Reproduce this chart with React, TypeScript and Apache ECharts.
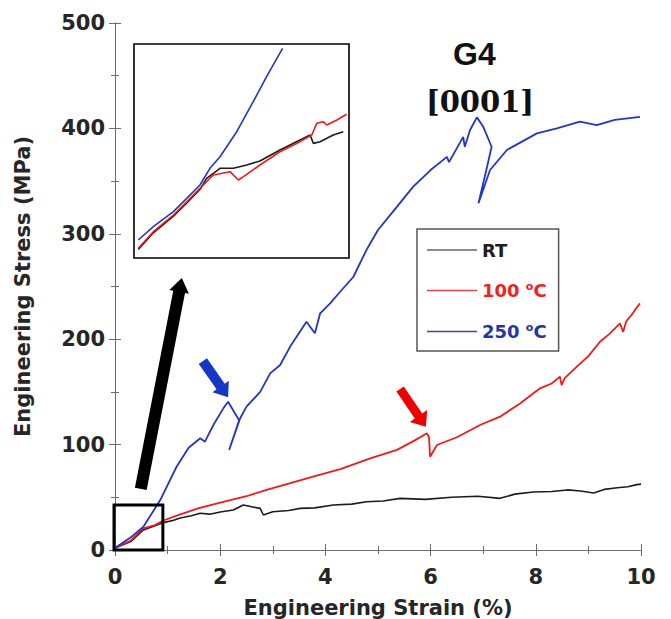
import React, { useEffect, useRef } from "react";
import * as echarts from "echarts";

// ---- main chart data: [strain %, stress MPa] ----
const rtCurve: [number, number][] = [
  [0, 2], [0.3, 8], [0.54, 19], [0.76, 23], [0.92, 26], [1.1, 28], [1.24, 30.4], [1.45, 32.5], [1.62, 34.8],
  [1.8, 34], [2.0, 36], [2.25, 38], [2.44, 42.7], [2.6, 41], [2.76, 39.5], [2.82, 33.2],
  [3.0, 36.3], [3.3, 37.5], [3.52, 39.5], [3.8, 40], [4.15, 42.7], [4.5, 43.5], [4.78, 45.8],
  [5.1, 46.5], [5.42, 49], [5.9, 48], [6.4, 50], [6.9, 51], [7.32, 49], [7.6, 53], [7.95, 55],
  [8.3, 55.5], [8.6, 57], [8.85, 56], [9.1, 54], [9.3, 57.5], [9.55, 59], [9.75, 60], [9.92, 62], [10, 62.5],
];
const c100Curve: [number, number][] = [
  [0, 2], [0.3, 9], [0.54, 20.6], [0.76, 23.7], [0.92, 28], [1.2, 33], [1.58, 39.5], [2.0, 45],
  [2.5, 51], [2.88, 57], [3.3, 63], [3.8, 70], [4.3, 77], [4.85, 87], [5.36, 95], [5.7, 104],
  [5.93, 110.7], [5.97, 107], [5.99, 88.5], [6.12, 99.6], [6.5, 107], [6.94, 118.6], [7.32, 126.5],
  [7.7, 139], [8.08, 153.4], [8.3, 158], [8.46, 164.5], [8.49, 156.5], [8.55, 163], [8.78, 174],
  [9.0, 184], [9.22, 197.6], [9.4, 205], [9.6, 215], [9.66, 207], [9.72, 217], [9.85, 225],
  [9.92, 230], [9.98, 234],
];
const c250Curve: [number, number][] = [
  [0, 2], [0.3, 12], [0.54, 22], [0.86, 47.4], [1.17, 79], [1.4, 97], [1.62, 106], [1.71, 102.8],
  [1.87, 118.6], [2.06, 134.4], [2.15, 140.7], [2.28, 129.7], [2.36, 123], [2.17, 94.9],
  [2.28, 110.7], [2.38, 125], [2.5, 136], [2.76, 150], [2.95, 167.6], [3.14, 175.5], [3.33, 193],
  [3.64, 216.6], [3.8, 205.6], [3.9, 224.6], [4.09, 234], [4.28, 245], [4.53, 259], [4.78, 284.6],
  [5.0, 303.6], [5.3, 322], [5.67, 344.7], [6.0, 360.5], [6.31, 373], [6.35, 368], [6.62, 392],
  [6.65, 382.6], [6.75, 398.5], [6.88, 410.5], [7.0, 401.6], [7.16, 382.6], [7.06, 360.5],
  [6.91, 329], [7.13, 360.5], [7.45, 379.5], [8.02, 395.3], [8.4, 400], [8.84, 406.4],
  [9.16, 403], [9.5, 408], [9.98, 411],
];

// ---- inset (zoom of 0–0.9 %, 0–45 MPa) ----
const insetRt: [number, number][] = [
  [0.018, 1.8], [0.081, 5.3], [0.165, 8.8], [0.221, 11.6], [0.276, 14.4], [0.304, 16.76],
  [0.36, 18.86], [0.416, 18.86], [0.472, 19.56], [0.527, 20.4], [0.611, 22.7], [0.695, 24.8],
  [0.737, 25.86], [0.751, 24.1], [0.779, 24.46], [0.834, 25.86], [0.876, 26.56],
];
const insetC100: [number, number][] = [
  [0.018, 2.04], [0.081, 5.53], [0.165, 9.04], [0.221, 11.84], [0.276, 14.66], [0.332, 17.45],
  [0.402, 18.15], [0.437, 16.4], [0.458, 17.1], [0.527, 19.56], [0.611, 22.35], [0.695, 24.46],
  [0.744, 25.86], [0.765, 28.32], [0.792, 28.66], [0.807, 27.97], [0.849, 29.02], [0.89, 30.22],
];
const insetC250: [number, number][] = [
  [0.018, 3.79], [0.081, 6.58], [0.165, 9.74], [0.221, 12.55], [0.276, 15.35], [0.318, 18.86],
  [0.36, 21.3], [0.43, 26.56], [0.499, 32.87], [0.555, 38.12], [0.622, 44.1],
];

const seriesNames = ["RT", "100 °C", "250 °C"];
const xTicks = { min: 0, max: 10, interval: 2 };
const yTicks = { min: 0, max: 500, interval: 100 };
const zoomRegion = { x: [0, 0.91], y: [0, 42.7] };

const COLORS = { rt: "#1c1c1c", c100: "#ee1b1b", c250: "#2435c2" };
const LEGEND_LINE = { rt: "#666666", c100: "#e04848", c250: "#3a4aa8" };
const LABEL_FONT = "DejaVu Sans";

type ArrowDef = { from: [number, number]; to: [number, number]; color: string; shaft: number; headLen: number; headHalf: number };
const arrows: ArrowDef[] = [
  { from: [0.49, 57.9], to: [1.27, 258], color: "#000000", shaft: 6, headLen: 14, headHalf: 10 },
  { from: [1.67, 179.3], to: [2.15, 145], color: "#1636c8", shaft: 5, headLen: 13, headHalf: 10 },
  { from: [5.42, 152.7], to: [5.91, 117], color: "#ee0000", shaft: 4.5, headLen: 13, headHalf: 10.5 },
];

export default function App() {
  const ref = useRef<HTMLDivElement>(null);
  useEffect(() => {
    if (!ref.current) return;
    const chart = echarts.init(ref.current, undefined, { renderer: "svg" });
    const axisLine = { show: true, lineStyle: { color: "#6e6e6e", width: 1 } };
    const mainX = (pos: "bottom" | "top", labels: boolean) => ({
      type: "value", gridIndex: 0, position: pos, ...xTicks,
      axisLine, splitLine: { show: false },
      axisTick: { show: true, inside: true, length: 6, lineStyle: { color: "#6e6e6e" } },
      minorTick: { show: true, splitNumber: 2, length: 4, lineStyle: { color: "#6e6e6e" } },
      axisLabel: { show: labels, fontFamily: LABEL_FONT, fontWeight: "bold", fontSize: 21, color: "#262626", margin: 16 },
      ...(labels ? { name: "Engineering Strain (%)", nameLocation: "middle", nameGap: 47,
        nameTextStyle: { fontFamily: LABEL_FONT, fontWeight: "bold", fontSize: 21, color: "#262626" } } : {}),
    });
    const mainY = (pos: "left" | "right", labels: boolean) => ({
      type: "value", gridIndex: 0, position: pos, ...yTicks,
      axisLine, splitLine: { show: false },
      axisTick: { show: true, inside: true, length: 6, lineStyle: { color: "#6e6e6e" } },
      minorTick: { show: true, splitNumber: 2, length: 4, lineStyle: { color: "#6e6e6e" } },
      axisLabel: { show: labels, fontFamily: LABEL_FONT, fontWeight: "bold", fontSize: 21, color: "#262626", margin: 10 },
      ...(labels ? { name: "Engineering Stress (MPa)", nameLocation: "middle", nameGap: 82,
        nameTextStyle: { fontFamily: LABEL_FONT, fontWeight: "bold", fontSize: 21, color: "#262626" } } : {}),
    });
    const rich = {
      k: { color: "#1e1e1e", fontFamily: LABEL_FONT, fontWeight: "bold", fontSize: 18, lineHeight: 19 },
      r: { color: "#ee2222", fontFamily: LABEL_FONT, fontWeight: "bold", fontSize: 18, lineHeight: 19 },
      rs: { color: "#ee2222", fontFamily: LABEL_FONT, fontWeight: "bold", fontSize: 11, lineHeight: 11, padding: [0, 0, 8, 0] },
      b: { color: "#1f35a8", fontFamily: LABEL_FONT, fontWeight: "bold", fontSize: 18, lineHeight: 19 },
      bs: { color: "#1f35a8", fontFamily: LABEL_FONT, fontWeight: "bold", fontSize: 11, lineHeight: 11, padding: [0, 0, 8, 0] },
    };
    const line = (name: string, data: [number, number][], color: string, xi: number, yi: number, width: number, z: number) => ({
      type: "line", name, data, xAxisIndex: xi, yAxisIndex: yi, symbol: "none", showSymbol: false,
      lineStyle: { color, width }, itemStyle: { color }, z, silent: true,
    });
    const legendIcon = "path://M0,0L50,0L50,1.6L0,1.6Z";
    const legendColors = [LEGEND_LINE.rt, LEGEND_LINE.c100, LEGEND_LINE.c250];
    const titleTexts = [
      { type: "text", left: 453, top: 38, style: { text: "G4", font: "bold 32px 'Liberation Sans', Arial, sans-serif", fill: "#111" } },
      { type: "text", x: 480, y: 102, style: { text: "[0001]", font: "bold 29px 'DejaVu Serif', serif", fill: "#111", align: "center", verticalAlign: "middle" } },
    ];
    chart.setOption({
      animation: false,
      grid: [
        { left: 115, top: 23, right: 30, bottom: 69, show: false, containLabel: false, outerBoundsMode: "none" },
        { left: 134, top: 44, width: 215, height: 214, show: true, borderColor: "#000", borderWidth: 1.6, backgroundColor: "#fff", z: 3, outerBoundsMode: "none" },
      ],
      xAxis: [
        mainX("bottom", true),
        mainX("top", false),
        { type: "value", gridIndex: 1, min: 0, max: 0.9, show: false },
      ],
      yAxis: [
        mainY("left", true),
        mainY("right", false),
        { type: "value", gridIndex: 1, min: 0, max: 45, show: false },
      ],
      legend: {
        orient: "vertical", left: 417, top: 229,
        data: seriesNames.map((n, i) => ({ name: n, icon: legendIcon, itemStyle: { color: legendColors[i] } })),
        itemWidth: 50, itemHeight: 14, itemGap: 22,
        padding: [12, 12, 10, 10],
        borderColor: "#555", borderWidth: 1.5, backgroundColor: "#fff",
        textStyle: { rich },
        formatter: (n: string) => n === "RT" ? "{k|RT}" : n.startsWith("100") ? "{r|100 }{rs|o}{r|C}" : "{b|250 }{bs|o}{b|C}",
        selectedMode: false,
      },
      graphic: titleTexts,
      series: [
        line(seriesNames[0], rtCurve, COLORS.rt, 0, 0, 1.6, 2),
        line(seriesNames[1], c100Curve, COLORS.c100, 0, 0, 1.8, 3),
        line(seriesNames[2], c250Curve, COLORS.c250, 0, 0, 1.8, 4),
        line(seriesNames[0], insetRt, COLORS.rt, 2, 2, 1.6, 5),
        line(seriesNames[1], insetC100, COLORS.c100, 2, 2, 1.6, 6),
        line(seriesNames[2], insetC250, COLORS.c250, 2, 2, 1.6, 7),
      ],
    });

    const px = (p: [number, number]) => chart.convertToPixel({ xAxisIndex: 0, yAxisIndex: 0 }, p) as number[];
    const arrowGraphics = arrows.map((a) => {
      const T = px(a.from), P = px(a.to);
      const dx = P[0] - T[0], dy = P[1] - T[1];
      const L = Math.hypot(dx, dy);
      const ux = dx / L, uy = dy / L, nx = -uy, ny = ux;
      const B = [P[0] - ux * a.headLen, P[1] - uy * a.headLen];
      const pts = [
        [T[0] + nx * a.shaft, T[1] + ny * a.shaft],
        [B[0] + nx * a.shaft, B[1] + ny * a.shaft],
        [B[0] + nx * a.headHalf, B[1] + ny * a.headHalf],
        [P[0], P[1]],
        [B[0] - nx * a.headHalf, B[1] - ny * a.headHalf],
        [B[0] - nx * a.shaft, B[1] - ny * a.shaft],
        [T[0] - nx * a.shaft, T[1] - ny * a.shaft],
      ];
      return { type: "polygon", shape: { points: pts }, style: { fill: a.color }, z: 10, silent: true };
    });
    const c0 = px([zoomRegion.x[0], zoomRegion.y[1]]);
    const c1 = px([zoomRegion.x[1], zoomRegion.y[0]]);
    const zoomBox = {
      type: "rect", shape: { x: c0[0] - 1, y: c0[1], width: c1[0] - c0[0] + 1, height: c1[1] - c0[1] },
      style: { fill: "none", stroke: "#000", lineWidth: 3 }, z: 10, silent: true,
    };
    chart.setOption({ graphic: [...titleTexts, ...arrowGraphics, zoomBox] }, { replaceMerge: ["graphic"] });

    return () => chart.dispose();
  }, []);
  return <div ref={ref} style={{ position: "fixed", left: 0, top: 0, width: 671, height: 619, background: "#fff" }} />;
}
